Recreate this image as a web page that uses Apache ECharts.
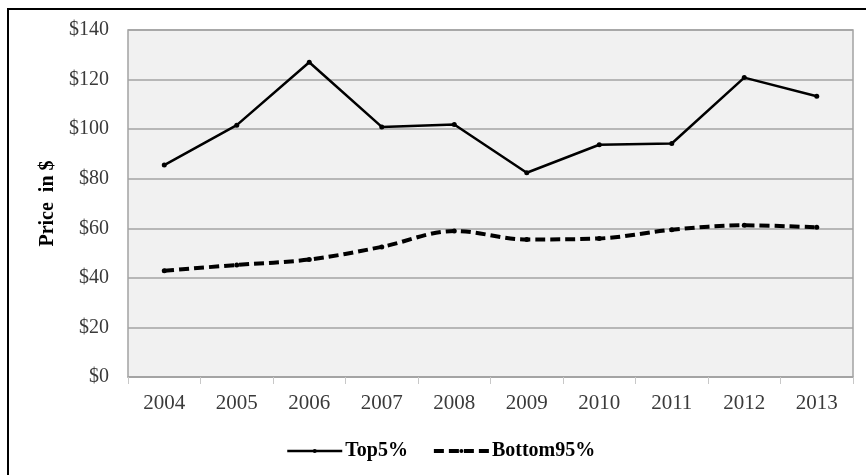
<!DOCTYPE html>
<html>
<head>
<meta charset="utf-8">
<script src="https://cdn.jsdelivr.net/npm/echarts@6/dist/echarts.min.js"></script>
<style>
  html, body { margin: 0; padding: 0; background: #fff; }
  #chart { width: 866px; height: 475px; }
</style>
</head>
<body>
<div id="chart"></div>
<script>
// Average price per year, split by top 5% and bottom 95%
const years = ['2004', '2005', '2006', '2007', '2008', '2009', '2010', '2011', '2012', '2013'];
const top5 = [85.5, 101.6, 127, 100.9, 101.9, 82.4, 93.7, 94.2, 120.8, 113.3];
const bottom95 = [42.9, 45.2, 47.4, 52.5, 58.9, 55.5, 55.9, 59.4, 61.2, 60.4];
const yTicks = { min: 0, max: 140, step: 20 };

const serif = '"Liberation Serif", "DejaVu Serif", serif';
const dashPattern = [10, 5];

const chart = echarts.init(document.getElementById('chart'), null, { renderer: 'canvas' });

chart.setOption({
  animation: false,
  backgroundColor: '#ffffff',
  textStyle: { fontFamily: serif },
  graphic: [{
    type: 'rect',
    shape: { x: 8, y: 9, width: 900, height: 520 },
    style: { fill: 'none', stroke: '#000', lineWidth: 2 },
    z: 100,
    silent: true
  }],
  grid: {
    left: 128, right: 13, top: 30, bottom: 98,
    show: true,
    backgroundColor: '#f1f1f1',
    borderColor: '#a3a3a3',
    borderWidth: 1.5
  },
  legend: {
    left: 281,
    top: 436,
    itemWidth: 55,
    itemHeight: 5,
    itemGap: 24,
    textStyle: { fontFamily: serif, fontWeight: 'bold', fontSize: 20, color: '#000', padding: [0, 0, 0, -2] },
    data: [
      { name: 'Top5%', lineStyle: { width: 2.5, color: '#000' } },
      { name: 'Bottom95%', lineStyle: { width: 4, color: '#000', type: dashPattern } }
    ]
  },
  xAxis: {
    type: 'category',
    data: years,
    boundaryGap: true,
    axisLine: { show: true, lineStyle: { color: '#a3a3a3', width: 1.5 } },
    axisTick: { show: true, interval: 0, length: 7, lineStyle: { color: '#c8c8c8', width: 1 } },
    axisLabel: { fontFamily: serif, fontSize: 21, color: '#3a3a3a', margin: 16, interval: 0 },
    splitLine: { show: false }
  },
  yAxis: {
    type: 'value',
    min: yTicks.min,
    max: yTicks.max,
    interval: yTicks.step,
    name: 'Price  in $',
    nameLocation: 'middle',
    nameGap: 70,
    nameRotate: 90,
    nameTextStyle: { fontFamily: serif, fontWeight: 'bold', fontSize: 20, color: '#000' },
    axisLine: { show: false },
    axisTick: { show: false },
    axisLabel: {
      fontFamily: serif, fontSize: 20, color: '#3a3a3a', margin: 19,
      formatter: v => '$' + v
    },
    splitLine: { show: true, lineStyle: { color: '#a3a3a3', width: 1.5 } }
  },
  series: [
    {
      name: 'Top5%',
      type: 'line',
      data: top5,
      symbol: 'circle',
      symbolSize: 5,
      itemStyle: { color: '#000' },
      lineStyle: { color: '#000', width: 2.5 }
    },
    {
      name: 'Bottom95%',
      type: 'line',
      data: bottom95,
      smooth: 0.35,
      symbol: 'circle',
      symbolSize: 5,
      itemStyle: { color: '#000' },
      lineStyle: { color: '#000', width: 4, type: dashPattern }
    }
  ]
});
</script>
</body>
</html>
